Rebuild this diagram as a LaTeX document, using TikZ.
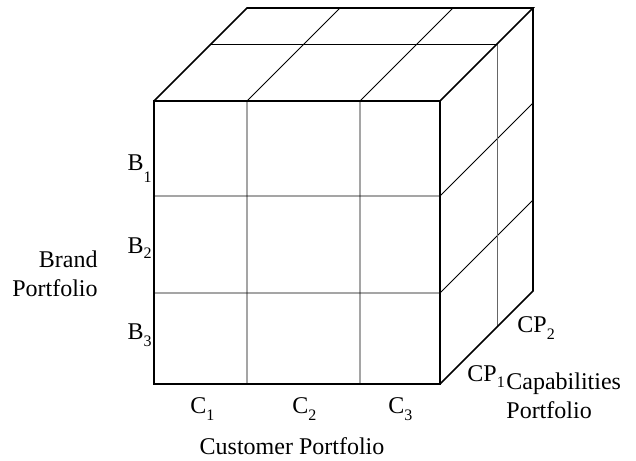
\documentclass[tikz,border=0pt]{standalone}
\usepackage{fontspec}
\setmainfont{Liberation Serif}
\newcommand\lsub[2][3.5pt]{\raisebox{-#1}{\fontsize{8}{8}\selectfont #2}}
\begin{document}
\begin{tikzpicture}[x=0.5pt,y=-0.5pt,
	edge/.style={line width=0.8pt},
	cell/.style={line width=0.4pt},
	lbl/.style={font=\fontsize{12}{14.5}\selectfont,inner sep=0pt}]
	\useasboundingbox (0,0) rectangle (636,460);
	% corners of the cube
	\coordinate (fa) at (154,101);
	\coordinate (fb) at (440,101);
	\coordinate (fc) at (440,384);
	\coordinate (fd) at (154,384);
	\coordinate (ba) at (247,8);
	\coordinate (bb) at (533,8);
	\coordinate (bc) at (533,291);
	% inner lines
	\foreach \x in {247,360}
	\draw[cell] (\x,101)--(\x,384) (\x,101)--++(93,-93);
	\foreach \y in {196,293}
	\draw[cell] (154,\y)--(440,\y) (440,\y)--++(93,-93);
	\draw[cell] (211,44)--(497,44);
	\draw[cell,black!60] (497,44)--(497,327);
	% outer edges
	\draw[edge] (fa) rectangle (fc);
	\draw[edge] (fa)--(ba)--(bb)--(fb) (bb)--(bc)--(fc);
	% labels
	\node[lbl,anchor=base east] (b1) at (152,170) {B\lsub[6pt]{1}};
	\node[lbl,anchor=base east] (b2) at (152,253) {B\lsub[2.5pt]{2}};
	\node[lbl,anchor=base east] (b3) at (152,339) {B\lsub{3}};
	\node[lbl,anchor=north east,align=right] (brand) at (98,250) {Brand\\Portfolio};
	\foreach \x/\i in {190/1,292/2,388/3}
	\node[lbl,anchor=base west] (c\i) at (\x,413) {C\lsub{\i}};
	\node[lbl,anchor=base] (cust) at (292,454) {Customer Portfolio};
	\node[lbl,anchor=base west] (cp2) at (517,332) {CP\lsub{2}};
	\node[lbl,anchor=base west] (cp1) at (467,381) {CP\lsub[3pt]{1}};
	\node[lbl,anchor=north west,align=left] (cap) at (506,372) {Capabilities\\Portfolio};
\end{tikzpicture}
\end{document}
